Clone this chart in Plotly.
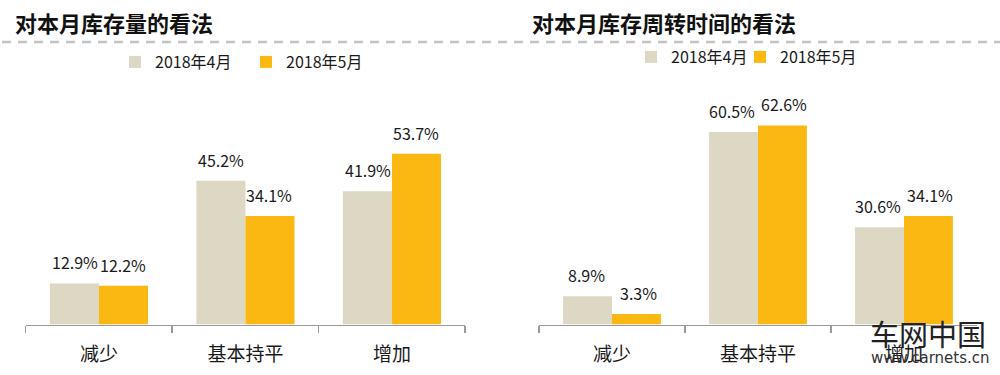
import plotly.graph_objects as go

categories = ["减少", "基本持平", "增加"]
series_names = ["2018年4月", "2018年5月"]
stock_apr = [12.9, 45.2, 41.9]
stock_may = [12.2, 34.1, 53.7]
turn_apr = [8.9, 60.5, 30.6]
turn_may = [3.3, 62.6, 34.1]
titles = ["对本月库存量的看法", "对本月库存周转时间的看法"]

C_APR = "#DCD8C3"
C_MAY = "#FCB812"
FONT = "Noto Sans CJK SC"
H = 375.0
W = 1000.0

fig = go.Figure()

def add_pair(vals_a, vals_b, xa, ya, legends):
    for name, vals, col, lg in [(series_names[0], vals_a, C_APR, legends[0]),
                                (series_names[1], vals_b, C_MAY, legends[1])]:
        fig.add_trace(go.Bar(
            x=categories, y=vals, name=name, marker=dict(color=col, line=dict(width=0)),
            xaxis=xa, yaxis=ya, legend=lg, showlegend=True,
            hoverinfo="skip",
        ))

add_pair(stock_apr, stock_may, "x", "y", ("legend", "legend2"))
add_pair(turn_apr, turn_may, "x2", "y2", ("legend3", "legend4"))

# data labels
def add_labels(vals_a, vals_b, xr, yr, off):
    for vals, sh in [(vals_a, -off), (vals_b, off)]:
        for c, v in zip(categories, vals):
            fig.add_annotation(x=c, y=v, xref=xr, yref=yr, text=f"{v:.1f}%",
                               showarrow=False, xshift=sh, yanchor="bottom", yshift=7,
                               font=dict(family=FONT, size=16, color="#1a1a1a"))

add_labels(stock_apr, stock_may, "x", "y", 24)
add_labels(turn_apr, turn_may, "x2", "y2", 26)

ybot = (H - 324.5) / H
axis_common = dict(showline=True, linecolor="#9a9a9a", linewidth=1.5, ticks="outside",
                   tickson="boundaries", ticklen=7, tickcolor="#9a9a9a", tickwidth=1.5,
                   tickfont=dict(family=FONT, size=19, color="#1a1a1a"), showgrid=False,
                   ticklabelstandoff=12, automargin=False, fixedrange=True)

def legend_at(xpx, ypx):
    return dict(orientation="h", x=xpx / W, xanchor="left", y=(H - ypx) / H, yanchor="middle",
                font=dict(family=FONT, size=16, color="#1a1a1a"),
                bgcolor="rgba(0,0,0,0)")

fig.update_layout(
    width=1000, height=375, margin=dict(l=0, r=0, t=0, b=0, autoexpand=False),
    paper_bgcolor="white", plot_bgcolor="white",
    barmode="group",
    bargap=0.33,
    xaxis=dict(domain=[0.0257, 0.4652], anchor="y", **axis_common),
    yaxis=dict(domain=[ybot, (H - 133.7) / H], range=[0, 60], visible=False, anchor="x",
               automargin=False, fixedrange=True),
    xaxis2=dict(domain=[0.539, 0.977], anchor="y2", **axis_common),
    yaxis2=dict(domain=[ybot, (H - 101.9) / H], range=[0, 70], visible=False, anchor="x2",
                automargin=False, fixedrange=True),
    legend=legend_at(115, 62),
    legend2=legend_at(246, 62),
    legend3=legend_at(631, 57),
    legend4=legend_at(740, 57),
)

# titles
fig.add_annotation(x=13 / W, y=(H - 22) / H, xref="paper", yref="paper", text=f"<b>{titles[0]}</b>",
                   showarrow=False, xanchor="left", yanchor="middle",
                   font=dict(family=FONT, size=22, color="#111111"))
fig.add_annotation(x=530 / W, y=(H - 22) / H, xref="paper", yref="paper", text=f"<b>{titles[1]}</b>",
                   showarrow=False, xanchor="left", yanchor="middle",
                   font=dict(family=FONT, size=22, color="#111111"))

# dashed separator
fig.add_shape(type="line", xref="paper", yref="paper", x0=0.002, x1=1.0, y0=(H - 42) / H, y1=(H - 42) / H,
              line=dict(color="#c4c4c4", width=2.5, dash="9px,7px"))

# watermark
fig.add_annotation(x=868 / W, y=(H - 333) / H, xref="paper", yref="paper", text="车网中国",
                   showarrow=False, xanchor="left", yanchor="middle",
                   font=dict(family=FONT, size=29, color="#222222"))
fig.add_annotation(x=869 / W, y=(H - 358) / H, xref="paper", yref="paper", text="www.carnets.cn",
                   showarrow=False, xanchor="left", yanchor="middle",
                   font=dict(family="DejaVu Sans", size=15, color="#333333"))

fig.write_html("out.html", config={"displayModeBar": False, "staticPlot": True},
               post_script="document.body.style.margin='0';document.body.style.overflow='hidden';")
